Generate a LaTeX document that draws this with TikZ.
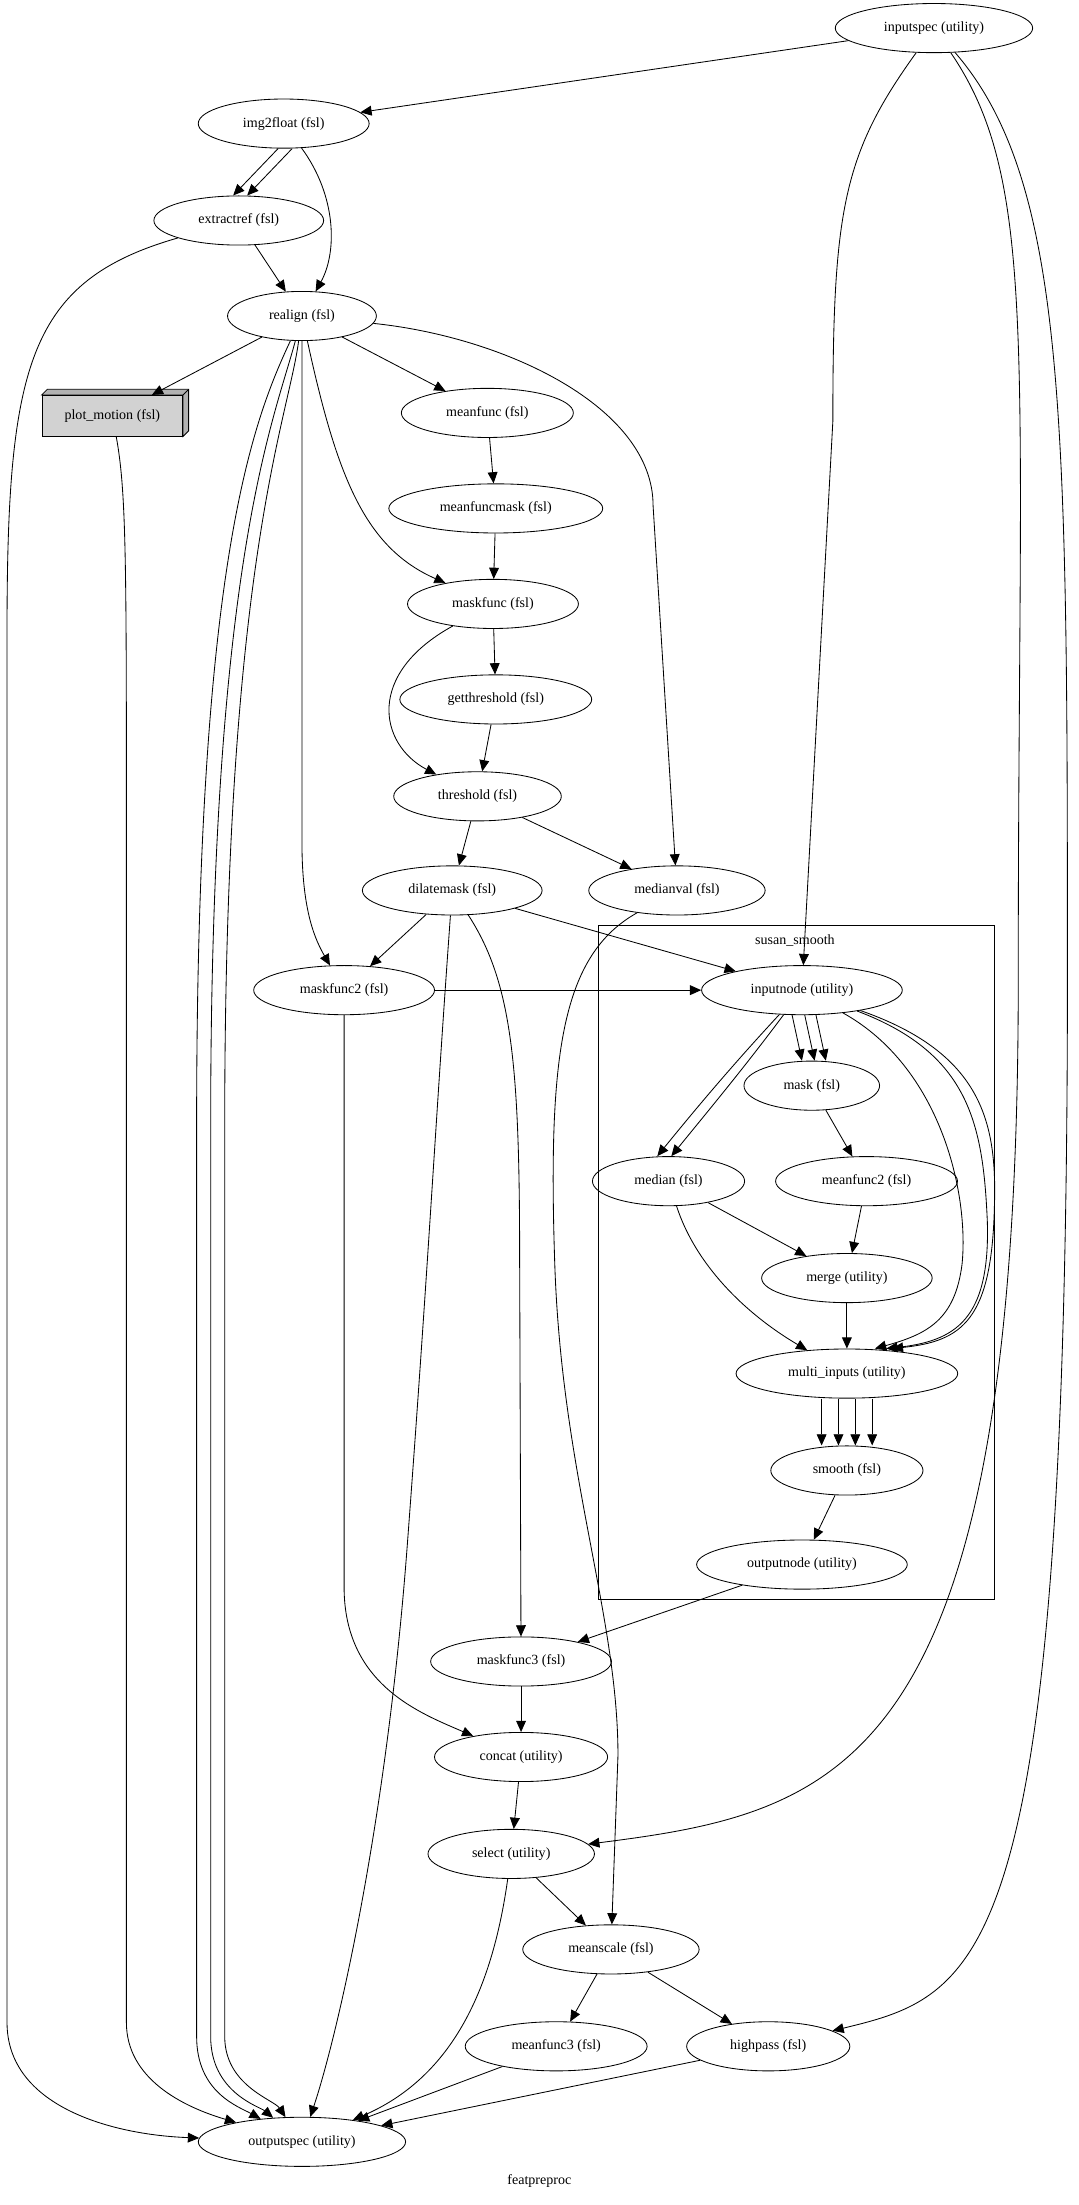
\documentclass[tikz,border=0pt]{standalone}
\usepackage{fontspec}
\setmainfont{Liberation Serif}
\usetikzlibrary{shapes.geometric,arrows.meta}
\tikzset{
  proc/.style={ellipse,draw,semithick,minimum height=35pt,inner xsep=14pt,inner ysep=0pt,font=\fontsize{10}{12}\selectfont},
  edge/.style={semithick,-{Triangle[length=8pt,width=7pt]}},
}
\begin{document}
\begin{tikzpicture}[x=1pt,y=-1pt]
  \useasboundingbox (0,0) rectangle (768,1570);
  % cluster
  \draw[semithick] (426,659) rectangle (708,1139);
  \node[font=\fontsize{10}{12}\selectfont] (clabel) at (566,670) {susan\_smooth};
  % nodes
  \node[proc] (inputspec) at (665,20) {inputspec (utility)};
  \node[proc] (img2float) at (202,88) {img2float (fsl)};
  \node[proc] (extractref) at (170,157) {extractref (fsl)};
  \node[proc] (realign) at (215,225) {realign (fsl)};
  \node[draw,semithick,fill=gray!35,minimum width=100pt,minimum height=29pt,inner sep=0pt,font=\fontsize{10}{12}\selectfont] (plotmotion) at (80,296) {plot\_motion (fsl)};
  \fill[gray!60,draw=black,semithick] (plotmotion.north west) -- ++(4,-4) -- ([shift={(4,-4)}]plotmotion.north east) -- ([shift={(4,-4)}]plotmotion.south east) -- (plotmotion.south east) -- (plotmotion.north east) -- cycle;
  \draw[semithick] (plotmotion.north east) -- ++(4,-4);
  \node[proc] (meanfunc) at (347,294) {meanfunc (fsl)};
  \node[proc] (meanfuncmask) at (353,362) {meanfuncmask (fsl)};
  \node[proc] (maskfunc) at (351,430) {maskfunc (fsl)};
  \node[proc] (getthreshold) at (353,498) {getthreshold (fsl)};
  \node[proc] (threshold) at (340,567) {threshold (fsl)};
  \node[proc] (dilatemask) at (322,634) {dilatemask (fsl)};
  \node[proc] (medianval) at (482,634) {medianval (fsl)};
  \node[proc] (maskfunc2) at (245,705) {maskfunc2 (fsl)};
  \node[proc] (inputnode) at (571,705) {inputnode (utility)};
  \node[proc] (mask) at (578,773) {mask (fsl)};
  \node[proc] (median) at (476,841) {median (fsl)};
  \node[proc] (meanfunc2) at (617,841) {meanfunc2 (fsl)};
  \node[proc] (merge) at (603,910) {merge (utility)};
  \node[proc] (multi) at (603,978) {multi\_inputs (utility)};
  \node[proc] (smooth) at (603,1047) {smooth (fsl)};
  \node[proc] (outputnode) at (571,1114) {outputnode (utility)};
  \node[proc] (maskfunc3) at (371,1183) {maskfunc3 (fsl)};
  \node[proc] (concat) at (371,1251) {concat (utility)};
  \node[proc] (select) at (364,1320) {select (utility)};
  \node[proc] (meanscale) at (435,1388) {meanscale (fsl)};
  \node[proc] (meanfunc3) at (396,1457) {meanfunc3 (fsl)};
  \node[proc] (highpass) at (547,1457) {highpass (fsl)};
  \node[proc] (outputspec) at (215,1525) {outputspec (utility)};
  \node[font=\fontsize{10}{12}\selectfont] (title) at (384,1553) {featpreproc};
  % edges
  \draw[edge] (inputspec) -- (img2float);
  \draw[edge] (inputspec) .. controls (600,110) and (593,150) .. (593,300) -- (inputnode);
  \draw[edge] (inputspec) .. controls (740,130) and (725,250) .. (725,700) .. controls (725,1260) and (600,1290) .. (select);
  \draw[edge] (inputspec) .. controls (760,130) and (760,300) .. (760,700) .. controls (760,1400) and (700,1420) .. (highpass);
  \draw[edge] ([xshift=-4pt]img2float.south) -- ([xshift=-4pt]extractref.north);
  \draw[edge] ([xshift=6pt]img2float.south) -- ([xshift=6pt]extractref.north);
  \draw[edge] (img2float) .. controls (240,140) and (240,180) .. (realign);
  \draw[edge] (extractref) -- (realign);
  \draw[edge] (extractref) .. controls (20,200) and (5,260) .. (5,450) -- (5,1440) .. controls (5,1500) and (80,1520) .. (outputspec);
  \draw[edge] (realign) -- (plotmotion);
  \draw[edge] (realign) -- (meanfunc);
  \draw[edge] (realign) .. controls (240,340) and (260,390) .. (maskfunc);
  \draw[edge] (realign) .. controls (360,240) and (465,290) .. (465,360) -- (medianval);
  \draw[edge] (realign) .. controls (215,300) and (215,400) .. (215,600) .. controls (215,650) and (225,670) .. (maskfunc2);
  \draw[edge] (realign) .. controls (180,300) and (140,400) .. (140,800) -- (140,1450) .. controls (140,1490) and (170,1500) .. (outputspec);
  \draw[edge] (realign) .. controls (195,300) and (150,400) .. (150,800) -- (150,1450) .. controls (150,1490) and (185,1500) .. (outputspec);
  \draw[edge] (realign) .. controls (205,300) and (160,400) .. (160,800) -- (160,1450) .. controls (160,1485) and (195,1495) .. (outputspec);
  \draw[edge] (plotmotion) .. controls (90,350) and (90,400) .. (90,600) -- (90,1440) .. controls (90,1480) and (130,1500) .. (outputspec);
  \draw[edge] (meanfunc) -- (meanfuncmask);
  \draw[edge] (meanfuncmask) -- (maskfunc);
  \draw[edge] (maskfunc) -- (getthreshold);
  \draw[edge] (maskfunc) .. controls (260,480) and (270,530) .. (threshold);
  \draw[edge] (getthreshold) -- (threshold);
  \draw[edge] (threshold) -- (dilatemask);
  \draw[edge] (threshold) -- (medianval);
  \draw[edge] (dilatemask) -- (maskfunc2);
  \draw[edge] (dilatemask) -- (inputnode);
  \draw[edge] (dilatemask) .. controls (365,700) and (370,760) .. (370,900) -- (maskfunc3);
  \draw[edge] (dilatemask) .. controls (310,800) and (305,900) .. (290,1100) .. controls (275,1300) and (240,1450) .. (outputspec);
  \draw[edge] (maskfunc2) -- (inputnode);
  \draw[edge] (maskfunc2) .. controls (245,780) and (245,900) .. (245,1130) .. controls (245,1200) and (300,1220) .. (concat);
  \draw[edge] (medianval) .. controls (400,680) and (390,750) .. (395,900) .. controls (400,1050) and (440,1150) .. (440,1250) -- (meanscale);
  \draw[edge] ([xshift=-7pt]inputnode.south) -- ([xshift=-7pt]mask.north);
  \draw[edge] ([xshift=2pt]inputnode.south) -- ([xshift=2pt]mask.north);
  \draw[edge] ([xshift=10pt]inputnode.south) -- ([xshift=10pt]mask.north);
  \draw[edge] (inputnode) .. controls (520,760) and (495,790) .. ([xshift=-8pt]median.north);
  \draw[edge] (inputnode) .. controls (530,760) and (505,790) .. ([xshift=2pt]median.north);
  \draw[edge] (inputnode) .. controls (670,760) and (690,850) .. (685,900) .. controls (680,940) and (660,950) .. ([xshift=20pt]multi.north);
  \draw[edge] (inputnode) .. controls (690,750) and (700,800) .. (703,870) .. controls (705,940) and (680,955) .. ([xshift=28pt]multi.north);
  \draw[edge] (inputnode) .. controls (700,750) and (710,800) .. (708,860) .. controls (706,940) and (685,955) .. ([xshift=32pt]multi.north);
  \draw[edge] (mask) -- (meanfunc2);
  \draw[edge] (meanfunc2) -- (merge);
  \draw[edge] (median) -- (merge);
  \draw[edge] (median) .. controls (495,900) and (530,935) .. (multi);
  \draw[edge] (merge) -- (multi);
  \foreach \dx in {-18,-6,6,18}
    \draw[edge] ([xshift=\dx pt]multi.south) -- ([xshift=\dx pt]smooth.north);
  \draw[edge] (smooth) -- (outputnode);
  \draw[edge] (outputnode) -- (maskfunc3);
  \draw[edge] (maskfunc3) -- (concat);
  \draw[edge] (concat) -- (select);
  \draw[edge] (select) -- (meanscale);
  \draw[edge] (select) .. controls (350,1420) and (320,1480) .. (outputspec);
  \draw[edge] (meanscale) -- (meanfunc3);
  \draw[edge] (meanscale) -- (highpass);
  \draw[edge] (meanfunc3) -- (outputspec);
  \draw[edge] (highpass) -- (outputspec);
\end{tikzpicture}
\end{document}
